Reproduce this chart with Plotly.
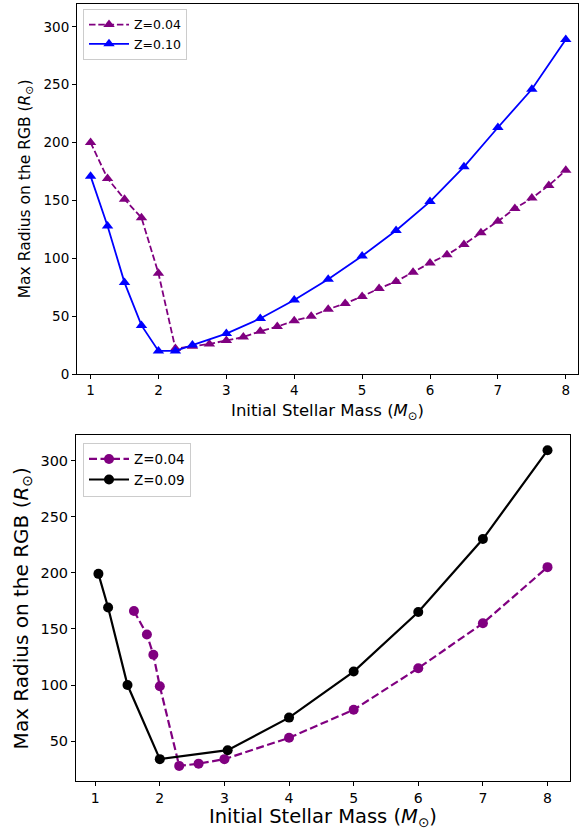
import plotly.graph_objects as go

# ---- Upper panel: triangle markers ----
mass_z004_top = [1.0, 1.25, 1.5, 1.75, 2.0, 2.25, 2.5, 2.75, 3.0, 3.25, 3.5, 3.75, 4.0,
                 4.25, 4.5, 4.75, 5.0, 5.25, 5.5, 5.75, 6.0, 6.25, 6.5, 6.75, 7.0,
                 7.25, 7.5, 7.75, 8.0]
rmax_z004_top = [200, 169, 151, 135, 87, 22, 24, 26, 29, 32, 37, 41, 46,
                 50, 56, 61, 67, 74, 80, 88, 96, 103, 112, 122, 132,
                 143, 152, 163, 176]

mass_z010 = [1.0, 1.25, 1.5, 1.75, 2.0, 2.25, 2.5, 3.0, 3.5, 4.0, 4.5, 5.0, 5.5,
             6.0, 6.5, 7.0, 7.5, 8.0]
rmax_z010 = [171, 128, 79, 42, 20, 20, 25, 35, 48, 64, 82, 102, 124,
             149, 179, 213, 246, 289]

# ---- Lower panel: circle markers ----
mass_z004_bot = [1.6, 1.8, 1.9, 2.0, 2.3, 2.6, 3.0, 4.0, 5.0, 6.0, 7.0, 8.0]
rmax_z004_bot = [166, 145, 127, 99, 28, 30, 34, 53, 78, 115, 155, 205]

mass_z009 = [1.05, 1.2, 1.5, 2.0, 3.05, 4.0, 5.0, 6.0, 7.0, 8.0]
rmax_z009 = [199, 169, 100, 34, 42, 71, 112, 165, 230, 309]

PURPLE = "#800080"
BLUE = "#0000ff"
BLACK = "#000000"
FONT = "DejaVu Sans"

fig = go.Figure()

fig.add_trace(go.Scatter(
    x=mass_z004_top, y=rmax_z004_top, name="Z=0.04", mode="lines+markers",
    line=dict(color=PURPLE, width=1.8, dash="6.5px,2.8px"),
    marker=dict(symbol="triangle-up", size=10, color=PURPLE),
    xaxis="x", yaxis="y", legend="legend"))
fig.add_trace(go.Scatter(
    x=mass_z010, y=rmax_z010, name="Z=0.10", mode="lines+markers",
    line=dict(color=BLUE, width=1.8),
    marker=dict(symbol="triangle-up", size=10, color=BLUE),
    xaxis="x", yaxis="y", legend="legend"))

fig.add_trace(go.Scatter(
    x=mass_z004_bot, y=rmax_z004_bot, name="Z=0.04", mode="lines+markers",
    line=dict(color=PURPLE, width=2.2, dash="8px,3.5px"),
    marker=dict(symbol="circle", size=10, color=PURPLE),
    xaxis="x2", yaxis="y2", legend="legend2"))
fig.add_trace(go.Scatter(
    x=mass_z009, y=rmax_z009, name="Z=0.09", mode="lines+markers",
    line=dict(color=BLACK, width=2.2),
    marker=dict(symbol="circle", size=10, color=BLACK),
    xaxis="x2", yaxis="y2", legend="legend2"))

axis_common = dict(showline=True, mirror=True, linecolor="black", linewidth=1,
                   ticks="outside", ticklen=4, tickcolor="black", showgrid=False,
                   zeroline=False)

xtitle = "Initial Stellar Mass (<i>M</i><sub>⊙</sub>)"
ytitle = "Max Radius on the RGB (<i>R</i><sub>⊙</sub>)"

fig.update_layout(
    width=579, height=830,
    margin=dict(l=0, r=0, t=0, b=0),
    paper_bgcolor="white", plot_bgcolor="white",
    font=dict(family=FONT, color="black"),
    xaxis=dict(domain=[77/579, 578/579], range=[0.8, 8.18], anchor="y",
               tickvals=[1, 2, 3, 4, 5, 6, 7, 8], tickfont=dict(size=13.5),
               title=dict(text=xtitle, font=dict(size=16.5), standoff=7),
               **axis_common),
    yaxis=dict(domain=[1 - 377.7/830, 1 - 3.7/830], range=[0, 320], anchor="x",
               tickvals=[0, 50, 100, 150, 200, 250, 300], tickfont=dict(size=13.5),
               title=dict(text=ytitle, font=dict(size=15.5), standoff=9),
               **axis_common),
    xaxis2=dict(domain=[76/579, 570/579], range=[0.703, 8.348], anchor="y2",
                tickvals=[1, 2, 3, 4, 5, 6, 7, 8], tickfont=dict(size=14),
                **axis_common),
    yaxis2=dict(domain=[1 - 789/830, 1 - 439.3/830], range=[14.2, 322.6], anchor="x2",
                tickvals=[50, 100, 150, 200, 250, 300], tickfont=dict(size=14.5),
                title=dict(text=ytitle, font=dict(size=20), standoff=6),
                **axis_common),
    legend=dict(x=83/579, y=1 - 9/830, xanchor="left", yanchor="top",
                bgcolor="rgba(255,255,255,0.8)", bordercolor="#cccccc", borderwidth=1,
                font=dict(size=12.5), itemwidth=40, tracegroupgap=0),
    legend2=dict(x=83/579, y=1 - 447/830, xanchor="left", yanchor="top",
                 bgcolor="rgba(255,255,255,0.8)", bordercolor="#cccccc", borderwidth=1,
                 font=dict(size=13.5), itemwidth=40),
)

# Lower x-axis title placed against the bottom edge of the page
fig.add_annotation(
    text=xtitle, xref="paper", yref="paper",
    x=(76 + 570) / 2 / 579, y=0, xanchor="center", yanchor="bottom",
    yshift=-9, borderpad=0,
    showarrow=False, font=dict(size=19.5, family=FONT, color="black"))

fig.write_html("out.html")
